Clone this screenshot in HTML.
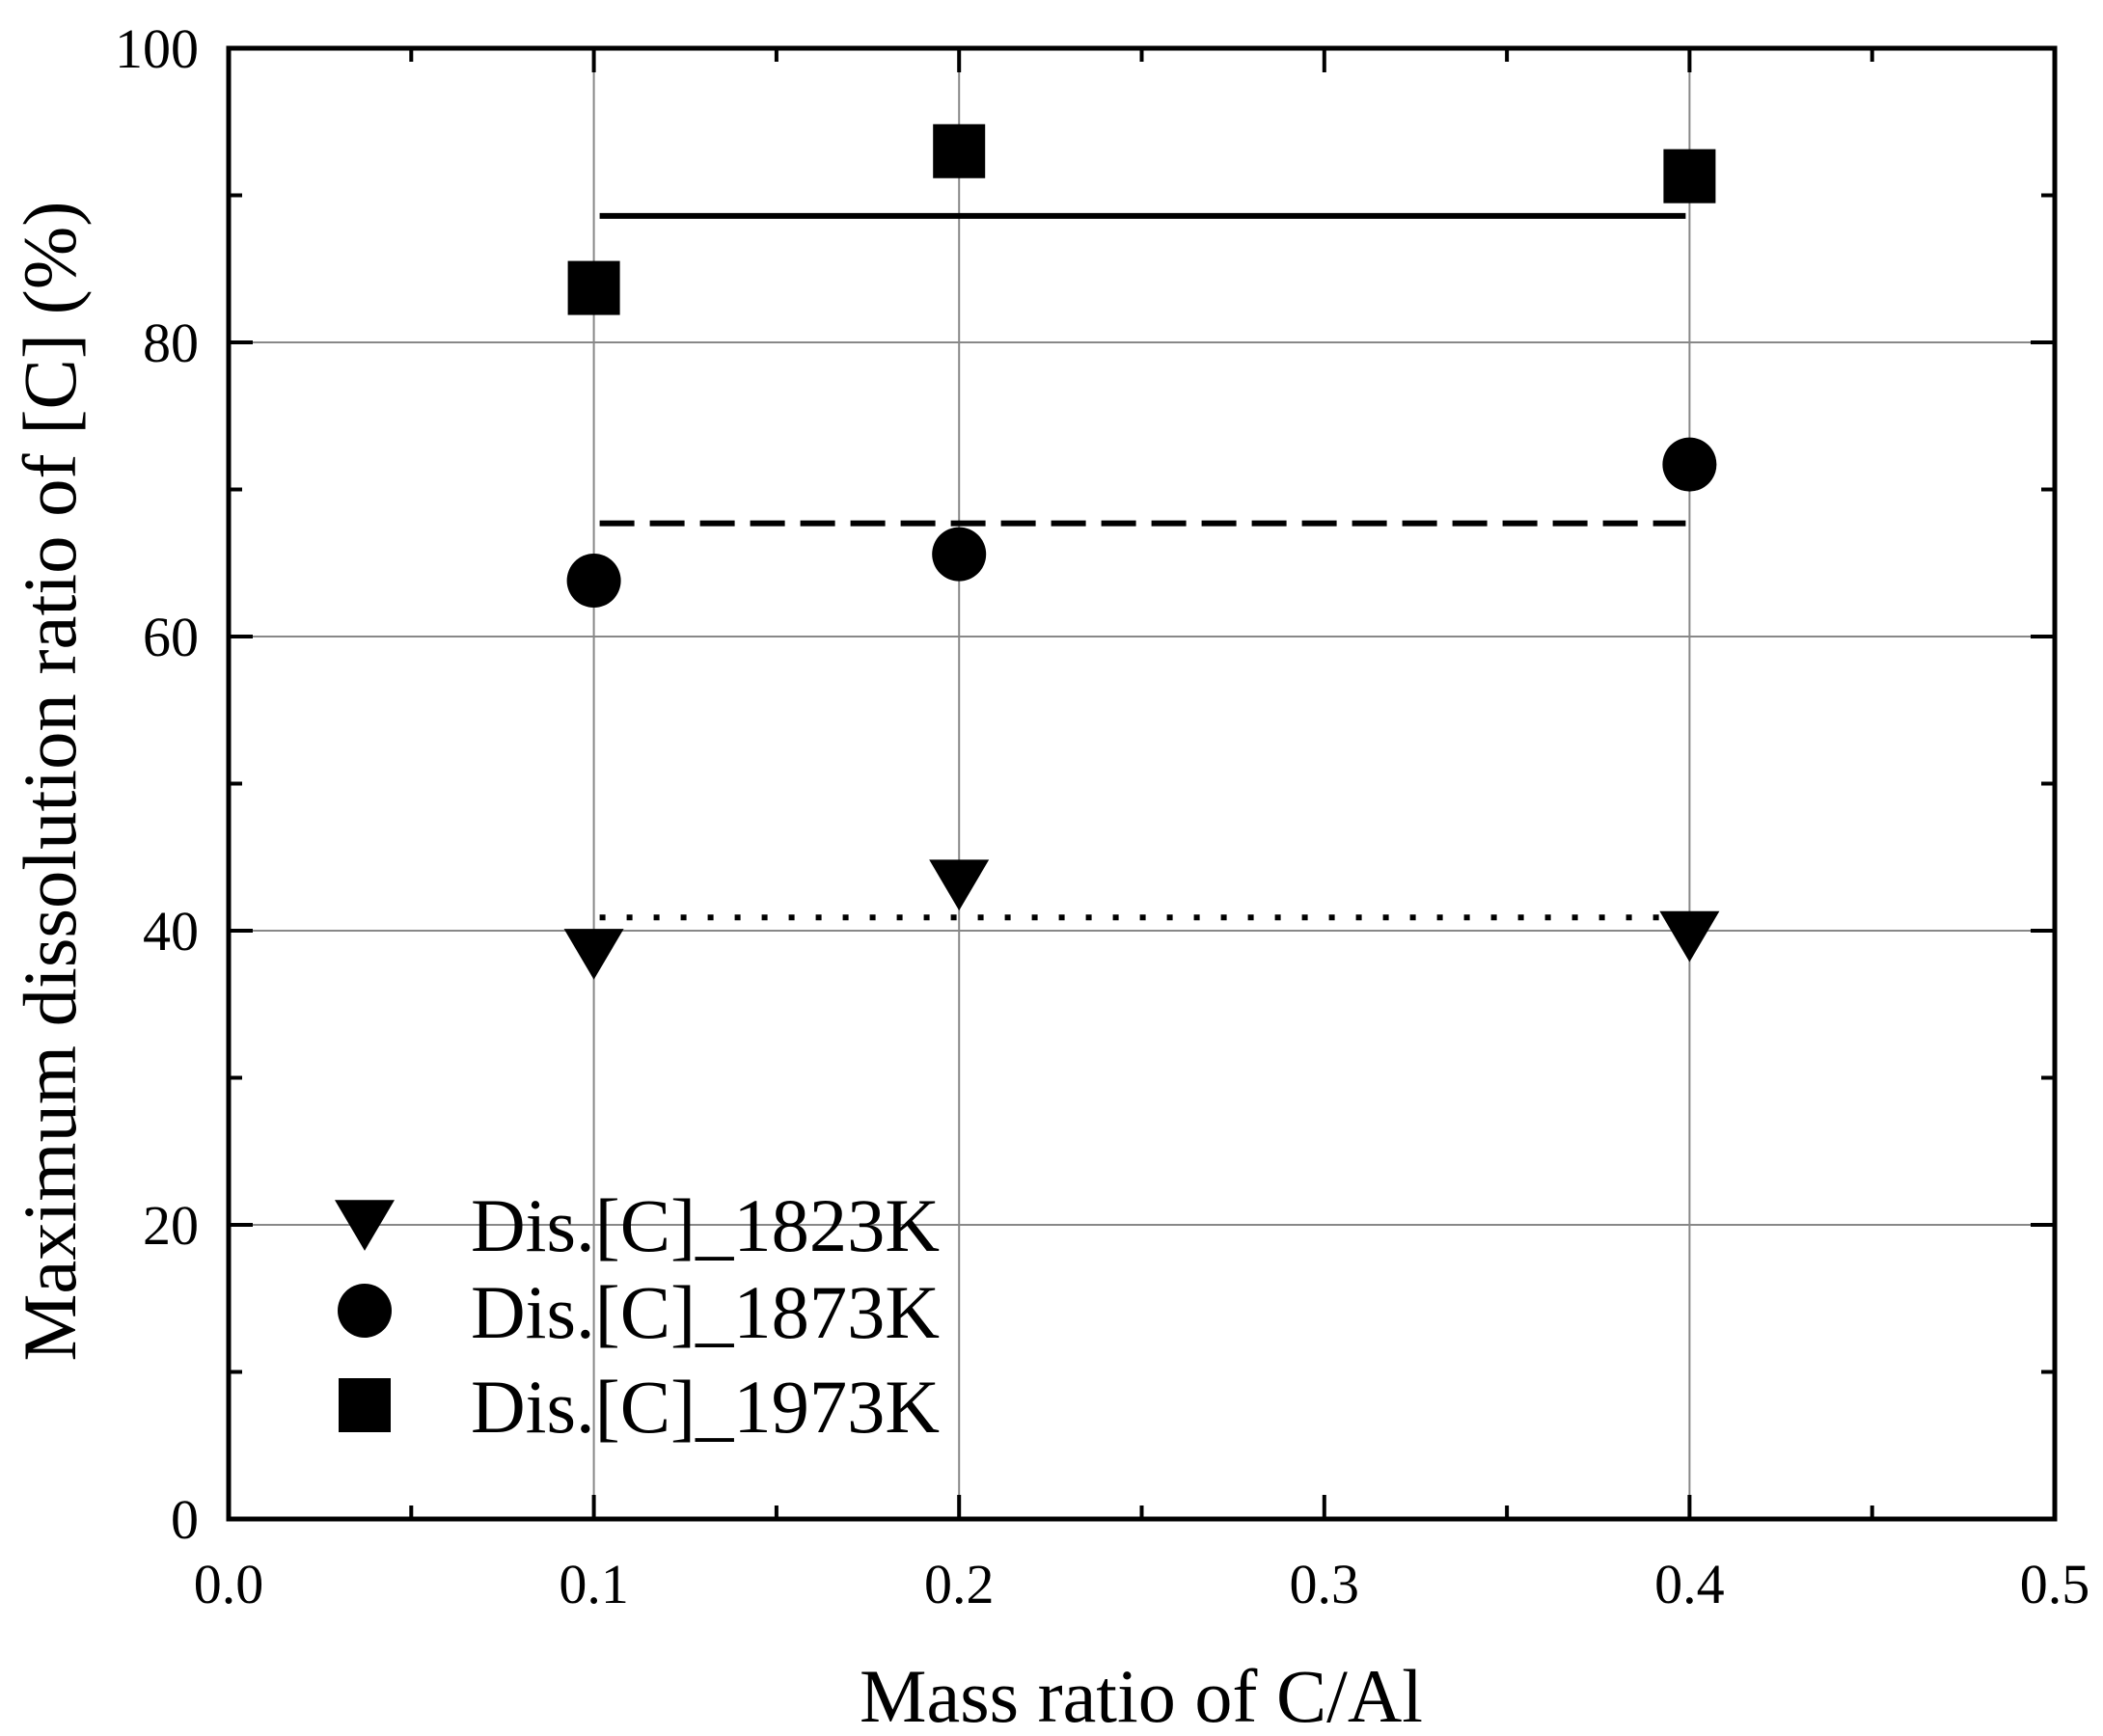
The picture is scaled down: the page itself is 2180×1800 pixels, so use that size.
<!DOCTYPE html>
<html><head><meta charset="utf-8"><style>html,body{margin:0;padding:0;background:#fff}svg{display:block}text{font-family:"Liberation Serif",serif;fill:#000}</style></head>
<body>
<svg id="chart" width="2180" height="1800" viewBox="0 0 2180 1800" xmlns="http://www.w3.org/2000/svg">
<g id="grid"></g>
<g id="series"></g>
<g id="axes"></g>
<text x="1183" y="1785" text-anchor="middle" font-size="78" textLength="584" lengthAdjust="spacingAndGlyphs">Mass ratio of C/Al</text>
<text transform="translate(78,810) rotate(-90)" text-anchor="middle" font-size="78" textLength="1203" lengthAdjust="spacingAndGlyphs">Maximum dissolution ratio of [C] (%)</text>
<g id="legend"></g>
</svg>
<script>
const categories=[0.1,0.2,0.4];
const s1823=[38.5,43.2,39.7];
const s1873=[63.8,65.6,71.7];
const s1973=[83.7,93.0,91.3];
const means=[40.9,67.7,88.6];
const xTicks=[0,0.1,0.2,0.3,0.4,0.5];
const yTicks=[0,20,40,60,80,100];
const seriesNames=["Dis.[C]_1823K","Dis.[C]_1873K","Dis.[C]_1973K"];
const L=237,R=2130,T=50,B=1575;
const X=v=>L+(v-0)/0.5*(R-L);
const Y=v=>B-(v/100)*(B-T);
const NS="http://www.w3.org/2000/svg";
function mk(tag,attrs,parent){const e=document.createElementNS(NS,tag);for(const k in attrs)e.setAttribute(k,attrs[k]);parent.appendChild(e);return e;}
const grid=document.getElementById('grid'),ser=document.getElementById('series'),ax=document.getElementById('axes'),leg=document.getElementById('legend');
categories.forEach(c=>{const g=mk('line',{x1:X(c),x2:X(c),y1:T,y2:B,stroke:'#888','stroke-width':2},grid);

});
[20,40,60,80].forEach(v=>{const g=mk('line',{x1:L,x2:R,y1:Y(v),y2:Y(v),stroke:'#888','stroke-width':2},grid);

});
// mean lines
const dashes=['6 22','36 16','none'];
means.forEach((m,i)=>{const l=mk('line',{x1:X(categories[0])+6,x2:X(categories[2])-4,y1:Y(m),y2:Y(m),stroke:'#000','stroke-width':6,'stroke-dasharray':dashes[i]},ser);

});
function tri(cx,cy,s,p){const h=s*0.5;const e=mk('polygon',{points:`${cx-h},${cy-h*0.8} ${cx+h},${cy-h*0.8} ${cx},${cy+h*0.9}`,fill:'#000'},p);return e;}
categories.forEach((c,i)=>{
 const t=tri(X(c),Y(s1823[i]),62,ser);
 
 
 const ci=mk('circle',{cx:X(c),cy:Y(s1873[i]),r:28,fill:'#000'},ser);
 
 
 const sq=mk('rect',{x:X(c)-27,y:Y(s1973[i])-28,width:54,height:56,fill:'#000'},ser);
 
 
});
// axes frame
const fr=mk('rect',{x:L,y:T,width:R-L,height:B-T,fill:'none',stroke:'#000','stroke-width':5},ax);


for(let v=0;v<=0.5001;v+=0.05){const major=Math.abs(v*10-Math.round(v*10))<1e-6;const len=major?25:14;
 mk('line',{x1:X(v),x2:X(v),y1:B,y2:B-len,stroke:'#000','stroke-width':4},ax);
 mk('line',{x1:X(v),x2:X(v),y1:T,y2:T+len,stroke:'#000','stroke-width':4},ax);}
for(let v=0;v<=100;v+=10){const major=v%20===0;const len=major?25:14;
 mk('line',{x1:L,x2:L+len,y1:Y(v),y2:Y(v),stroke:'#000','stroke-width':4},ax);
 mk('line',{x1:R,x2:R-len,y1:Y(v),y2:Y(v),stroke:'#000','stroke-width':4},ax);}
xTicks.forEach(v=>{const t=mk('text',{x:X(v),y:1662,'text-anchor':'middle','font-size':58},ax);t.textContent=v.toFixed(1);
 
 });
yTicks.forEach(v=>{const t=mk('text',{x:206,y:Y(v)+20,'text-anchor':'end','font-size':58},ax);t.textContent=v;
 
 });
// legend
const ly=[1269,1359,1457];
const lt=tri(378,ly[0],62,leg);


const lc=mk('circle',{cx:378,cy:ly[1],r:28,fill:'#000'},leg);


const ls=mk('rect',{x:351,y:ly[2]-28,width:54,height:56,fill:'#000'},leg);


seriesNames.forEach((n,i)=>{const t=mk('text',{x:488,y:ly[i]+28,'font-size':78,textLength:486,lengthAdjust:'spacingAndGlyphs'},leg);t.textContent=n;
 
 });
</script>
</body></html>
